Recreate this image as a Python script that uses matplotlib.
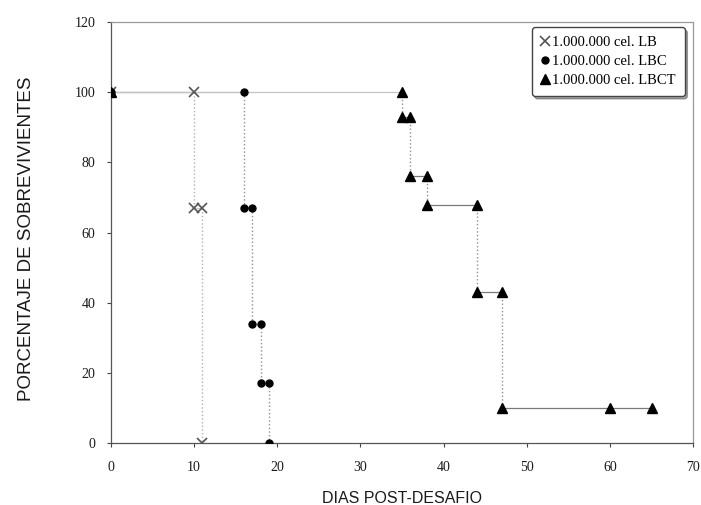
import matplotlib
matplotlib.use('Agg')
import matplotlib.pyplot as plt

# survival data (days, % survivors)
lb_days = [0, 10, 10, 11, 11]
lb_pct = [100, 100, 67, 67, 0]

lbc_days = [0, 16, 16, 17, 17, 18, 18, 19, 19]
lbc_pct = [100, 100, 67, 67, 34, 34, 17, 17, 0]

lbct_days = [0, 35, 35, 36, 36, 38, 38, 44, 44, 47, 47, 60, 65]
lbct_pct = [100, 100, 93, 93, 76, 76, 68, 68, 43, 43, 10, 10, 10]

x_ticks = [0, 10, 20, 30, 40, 50, 60, 70]
y_ticks = [0, 20, 40, 60, 80, 100, 120]

serif = 'Liberation Serif'
sans = 'Liberation Sans'

fig = plt.figure(figsize=(7.01, 5.05), dpi=100)
ax = fig.add_axes([0.158, 0.123, 0.831, 0.833])


def draw_steps(days, pct, hcol, vcol):
    # horizontal parts solid, vertical drops dotted
    for i in range(len(days) - 1):
        x0, x1 = days[i], days[i + 1]
        y0, y1 = pct[i], pct[i + 1]
        if x0 == x1:
            ax.plot([x0, x1], [y0, y1], ':', color=vcol, lw=1.0, zorder=1)
        else:
            # the 100 % plateau is printed very faint in the scan
            c = '#c4c4c4' if y0 == 100 else hcol
            ax.plot([x0, x1], [y0, y1], '-', color=c, lw=0.9, zorder=1)


draw_steps(lb_days, lb_pct, '#c8c8c8', '#b0b0b0')
draw_steps(lbc_days, lbc_pct, '#c8c8c8', '#909090')
draw_steps(lbct_days, lbct_pct, '#7a7a7a', '#909090')

ax.plot(lb_days, lb_pct, 'x', color='#555555', ms=7, mew=1.2, ls='none',
        label='1.000.000 cel. LB', zorder=3)
ax.plot(lbc_days, lbc_pct, 'o', color='black', ms=5, ls='none',
        label='1.000.000 cel. LBC', zorder=3)
ax.plot(lbct_days, lbct_pct, '^', color='black', ms=7, ls='none',
        label='1.000.000 cel. LBCT', zorder=4)

ax.set_xlim(0, 70)
ax.set_ylim(0, 120)
ax.set_xticks(x_ticks)
ax.set_yticks(y_ticks)
ax.tick_params(direction='out', length=3, width=0.8, colors='#444444',
               labelcolor='#1a1a1a', labelsize=10)
for lab in ax.get_xticklabels() + ax.get_yticklabels():
    lab.set_fontfamily(serif)
ax.tick_params(axis='x', pad=10)
ax.tick_params(axis='y', pad=8)

for side in ['left', 'bottom', 'top', 'right']:
    ax.spines[side].set_color('#555555')
    ax.spines[side].set_linewidth(0.9)
ax.spines['top'].set_color('#999999')
ax.spines['right'].set_color('#999999')

ax.set_xlabel('DIAS POST-DESAFIO', fontfamily=sans, fontsize=11.5,
              color='#1a1a1a', labelpad=12)
ax.set_ylabel('PORCENTAJE DE SOBREVIVIENTES', fontfamily=sans, fontsize=13.5,
              color='#1a1a1a', labelpad=30)
ax.yaxis.set_label_coords(-0.13, 0.485)

leg = ax.legend(loc='upper right', bbox_to_anchor=(0.985, 0.988),
                borderaxespad=0, prop={'family': serif, 'size': 10.5},
                frameon=True, fancybox=True, shadow=True, handlelength=0.6,
                handletextpad=0.2, borderpad=0.6, labelspacing=0.4,
                edgecolor='#444444')

fig.savefig('out.png', dpi=100)
